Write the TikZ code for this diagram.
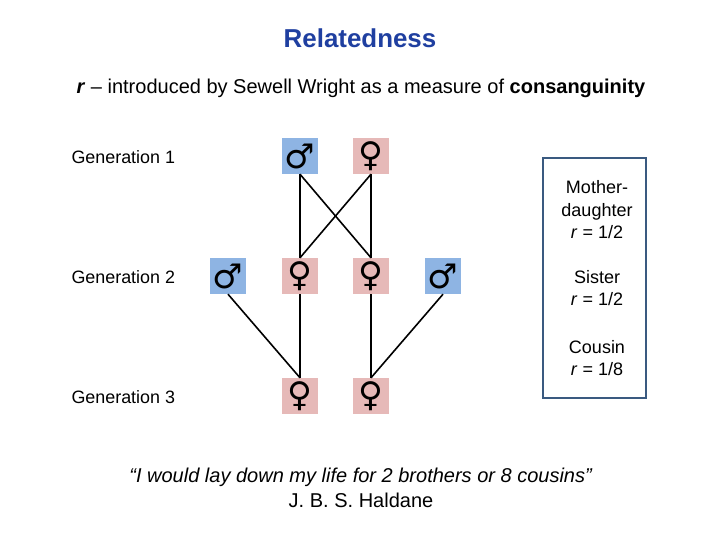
\documentclass[tikz,border=0pt]{standalone}
\usepackage{fontspec}
\setmainfont{Liberation Sans}
\newfontfamily\symf{DejaVu Sans}
\definecolor{mblue}{HTML}{8EB4E3}
\definecolor{fpink}{HTML}{E6B9B8}
\definecolor{ttl}{HTML}{1F3FA0}
\definecolor{bxc}{HTML}{3A5A80}
\begin{document}
\begin{tikzpicture}[x=1pt,y=-1pt,
  sq/.style={minimum width=36pt,minimum height=36pt,inner sep=0pt,font=\symf\fontsize{34}{34}\selectfont},
  male/.style={sq,fill=mblue},
  fem/.style={sq,fill=fpink},
  ln/.style={line width=1.6pt},
  bt/.style={align=center,font=\fontsize{18}{22.5}\selectfont},
  lab/.style={font=\fontsize{17.9}{20}\selectfont,anchor=west}]
\useasboundingbox (0,0) rectangle (720,540);
\node (t) at (360,38) {\fontsize{25.9}{28}\selectfont\bfseries\color{ttl}Relatedness};
\node (s) at (361,88) {\fontsize{20}{24}\selectfont\textbf{\textit{r}} -- introduced by Sewell Wright as a measure of \textbf{consanguinity}};
\node[lab] (g1) at (68,157) {Generation 1};
\node[lab] (g2) at (68,277) {Generation 2};
\node[lab] (g3) at (68,397) {Generation 3};
\node[male] (a) at (300,156) {♂};
\node[fem] (b) at (371,156) {♀};
\node[male] (c) at (228,276) {♂};
\node[fem] (d) at (300,276) {♀};
\node[fem] (e) at (371,276) {♀};
\node[male] (f) at (443,276) {♂};
\node[fem] (g) at (300,396) {♀};
\node[fem] (h) at (371,396) {♀};
\draw[ln] (a.south) -- (d.north);
\draw[ln] (a.south) -- (e.north);
\draw[ln] (b.south) -- (d.north);
\draw[ln] (b.south) -- (e.north);
\draw[ln] (c.south) -- (g.north);
\draw[ln] (d.south) -- (g.north);
\draw[ln] (e.south) -- (h.north);
\draw[ln] (f.south) -- (h.north);
\node[draw=bxc,line width=2pt,minimum width=103pt,minimum height=240pt] (box) at (594.5,278) {};
\node[bt] (m1) at (597,210) {Mother-\\daughter\\\textit{r} = 1/2};
\node[bt] (m2) at (597,288) {Sister\\\textit{r} = 1/2};
\node[bt] (m3) at (597,358) {Cousin\\\textit{r} = 1/8};
\node[align=center,font=\fontsize{20}{25}\selectfont] (q) at (361,488) {\textit{“I would lay down my life for 2 brothers or 8 cousins”}\\J. B. S. Haldane};
\end{tikzpicture}
\end{document}
